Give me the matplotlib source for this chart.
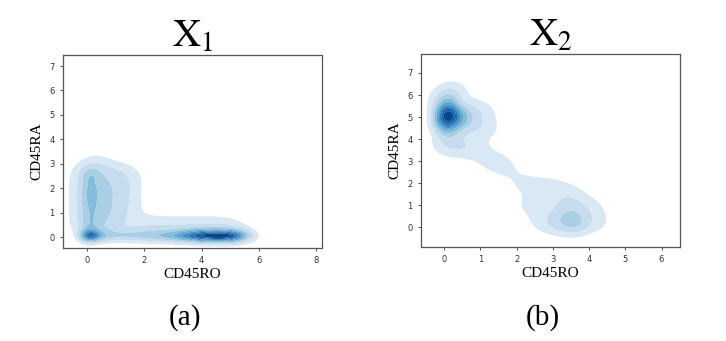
import numpy as np
import matplotlib
matplotlib.use("Agg")
import matplotlib.pyplot as plt

# Points (CD45RO, CD45RA, weight).
# "core" points use a narrow kernel, "bg" points a wide one.

# panel (a): X1
x1_core_ro = [0.0, 0.2, 0.5, 0.8, 1.1, 1.4, 1.7, 2.0, 2.3, 2.6, 2.9, 3.2, 3.5,
              3.8, 4.1, 4.4, 4.7, 5.0, 5.3, 5.6, 5.9,
              0.1, 0.1, 0.1, 0.1, 0.1, 0.1, 0.1, 0.1, 0.1]
x1_core_ra = [0.05] * 21 + [0.35, 0.65, 0.95, 1.25, 1.55, 1.85, 2.15, 2.45, 2.75]
x1_core_w = [6, 6, 2.4, 2.0, 2.0, 2.0, 2.0, 2.0, 2.2, 2.5, 3.0, 3.8, 5,
             6.5, 7.5, 8, 8, 7.5, 5, 2.5, 0.8,
             1.2, 1.1, 0.9, 1.0, 1.3, 1.5, 1.1, 1.5, 0.8]
x1_bg_ro = [-0.1, -0.1, -0.1, -0.1, 0.5, 0.5, 0.5, 0.5, 1.1, 1.1, 1.1, 1.1,
            0.3, 1.55, 1.55, 1.55,
            1.9, 2.6, 3.3, 4.0, 4.7, 5.3]
x1_bg_ra = [0.5, 1.2, 1.9, 2.6, 0.5, 1.2, 1.9, 2.6, 0.5, 1.2, 1.9, 2.6,
            3.1, 1.3, 2.0, 2.6,
            0.4, 0.4, 0.4, 0.4, 0.4, 0.25]
x1_bg_w = [2.2, 2.2, 2.2, 2.0, 2.4, 2.4, 2.4, 2.0, 1.5, 1.5, 1.5, 1.5,
           1.2, 1.1, 1.1, 1.0,
           2.0, 2.0, 2.0, 2.0, 2.0, 1.6]

# panel (b): X2
x2_core_ro = [0.1, 0.1, 0.1, 0.5, -0.1, 3.6, 3.2, 3.5]
x2_core_ra = [5.1, 4.5, 5.8, 4.9, 4.8, 0.22, 0.35, 0.7]
x2_core_w = [10, 3, 2.2, 3, 2, 1.9, 1.0, 0.6]
x2_bg_ro = [0.9, 1.05, 0.1, 0.7, -0.2, 0.3,
            1.3, 1.65,
            2.2, 2.9, 3.5, 2.4, 2.8, 3.3, 4.0, 4.1, 3.4]
x2_bg_ra = [5.3, 4.5, 3.7, 3.6, 5.8, 6.3,
            3.1, 2.7,
            2.0, 1.9, 1.6, 1.0, 0.2, 1.0, 0.9, 0.2, 0.0]
x2_bg_w = [2.2, 2.0, 2.0, 1.6, 1.0, 1.4,
           1.3, 1.2,
           1.3, 1.3, 1.2, 1.5, 1.7, 1.5, 1.5, 1.7, 1.3]


def density(gx, gy, xs, ys, ws, sx, sy):
    z = np.zeros_like(gx)
    for x, y, w in zip(xs, ys, ws):
        z += w * np.exp(-((gx - x) ** 2 / (2 * sx ** 2) + (gy - y) ** 2 / (2 * sy ** 2)))
    return z


def kde_panel(ax, core, bg, core_bw, bg_bw, xlim, ylim):
    gx, gy = np.meshgrid(np.linspace(*xlim, 400), np.linspace(*ylim, 400))
    z = density(gx, gy, *core, *core_bw) + density(gx, gy, *bg, *bg_bw)
    n = 10
    levels = np.linspace(0, z.max() * 1.0001, n + 1)[1:]
    colors = plt.cm.Blues(np.linspace(0.15, 0.92, n - 1))
    ax.contourf(gx, gy, z, levels=levels, colors=colors, antialiased=True)


plt.rcParams['mathtext.fontset'] = 'stix'
serif = 'Liberation Serif'

fig = plt.figure(figsize=(7.26, 3.41), dpi=100)
ax1 = fig.add_axes([0.0868, 0.2727, 0.3567, 0.566])
ax2 = fig.add_axes([0.5799, 0.2757, 0.3567, 0.566])

kde_panel(ax1, (x1_core_ro, x1_core_ra, x1_core_w), (x1_bg_ro, x1_bg_ra, x1_bg_w),
          (0.22, 0.19), (0.45, 0.4), (-0.84, 8.2), (-0.44, 7.45))
kde_panel(ax2, (x2_core_ro, x2_core_ra, x2_core_w), (x2_bg_ro, x2_bg_ra, x2_bg_w),
          (0.25, 0.4), (0.4, 0.42), (-0.64, 6.51), (-0.89, 7.86))

ax1.set_xlim(-0.84, 8.2)
ax1.set_ylim(-0.44, 7.45)
ax1.set_xticks([0, 2, 4, 6, 8])
ax1.set_yticks(range(8))
ax2.set_xlim(-0.64, 6.51)
ax2.set_ylim(-0.89, 7.86)
ax2.set_xticks(range(7))
ax2.set_yticks(range(8))

for ax, title, tag in [(ax1, r'$\mathrm{X}_1$', '(a)'), (ax2, r'$\mathrm{X}_2$', '(b)')]:
    ax.tick_params(labelsize=6, colors='#333333', length=2.5, width=0.6)
    for s in ax.spines.values():
        s.set_color('#555555')
        s.set_linewidth(0.9)
    ax.set_xlabel('CD45RO', fontfamily=serif, fontsize=11, labelpad=2)
    ax.set_ylabel('CD45RA', fontfamily=serif, fontsize=11, labelpad=4)
    ax.set_title(title, fontsize=28, pad=2)
    pos = ax.get_position()
    fig.text(pos.x0 + pos.width / 2 - 0.01, 0.07, tag, fontfamily=serif,
             fontsize=21, ha='center', va='center')

fig.savefig('out.png', dpi=100)
